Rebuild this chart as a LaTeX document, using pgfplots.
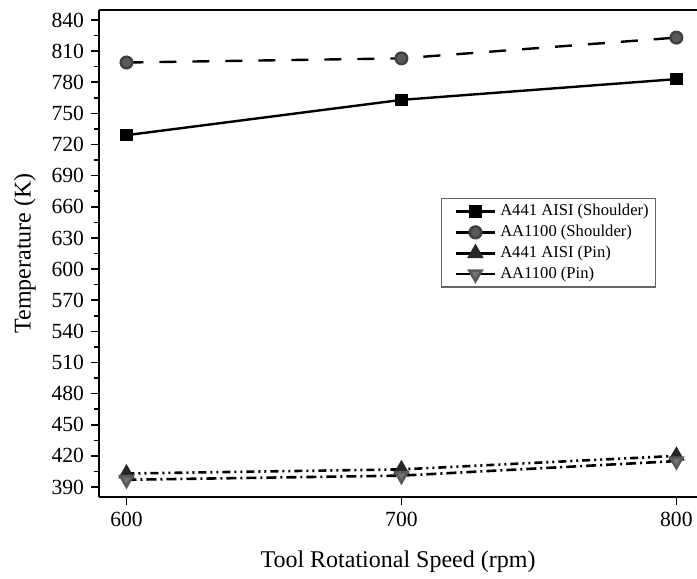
\documentclass[border=0pt]{standalone}
\usepackage{pgfplots}
\pgfplotsset{compat=1.18}
\usepackage{fontspec}
\setmainfont{Liberation Serif}

\begin{document}
\begin{tikzpicture}
\begin{axis}[
    name=ax,
    scale only axis,
    width=299pt, height=243.5pt,
    xmin=590, xmax=807.5,
    ymin=380.4, ymax=849.6,
    axis x line=box, axis y line=left,
    axis line style={-, line width=1pt},
    xtick={600,700,800},
    xtick pos=left,
    ytick={390,420,...,840},
    minor y tick num=1,
    tick align=outside,
    major tick length=4pt, minor tick length=2.5pt,
    tick style={black, line width=0.8pt},
    /pgf/number format/assume math mode=true,
    ticklabel style={font=\fontsize{10.8}{12}\selectfont},
    label style={font=\fontsize{12}{14}\selectfont},
    xlabel={Tool Rotational Speed (rpm)},
    ylabel={Temperature (K)},
    xlabel style={yshift=-5pt},
    ylabel style={yshift=1pt},
    legend style={at={(rel axis cs:0.572,0.614)}, anchor=north west,
        font=\fontsize{8.3}{9}\selectfont, draw=black!60, line width=0.6pt,
        inner xsep=1.5pt, inner ysep=0.8pt, row sep=-0.8pt, cells={anchor=west}},
    legend image code/.code={
        \path (-5pt,0pt);
        \draw[mark repeat=2,mark phase=2,#1,solid,line width=1.3pt]
            plot coordinates {(0pt,0pt) (9.75pt,0pt) (19.5pt,0pt)};
    },
]
\addplot[black, line width=1.2pt, mark=square*, mark size=2.5pt,
    mark options={solid}]
    coordinates {(600,729) (700,763) (800,783)};
\addlegendentry{A441 AISI (Shoulder)}
\addplot[black, line width=1.2pt, dash pattern=on 8.5pt off 8pt,
    mark=*, mark size=2.9pt,
    mark options={solid, fill=black!65, draw=black!75}]
    coordinates {(600,799) (700,803) (800,823)};
\addlegendentry{AA1100 (Shoulder)}
\addplot[black, line width=1.3pt,
    dash pattern=on 4pt off 2pt on 1pt off 2pt on 1pt off 2pt,
    mark=triangle*, mark size=3.5pt,
    mark options={solid, fill=black!85, draw=black!85}]
    coordinates {(600,403) (700,407) (800,420)};
\addlegendentry{A441 AISI (Pin)}
\addplot[black, line width=1.3pt, dash pattern=on 5pt off 2pt on 1pt off 2pt,
    mark=triangle*, mark size=3.5pt,
    mark options={solid, rotate=180, fill=black!55, draw=black!65}]
    coordinates {(600,397) (700,401) (800,415)};
\addlegendentry{AA1100 (Pin)}
\end{axis}
\pgfresetboundingbox
\path[use as bounding box] ([shift={(-49.5pt,-40.85pt)}]ax.south west)
    rectangle ([shift={(0pt,5pt)}]ax.north east);
\end{tikzpicture}
\end{document}
